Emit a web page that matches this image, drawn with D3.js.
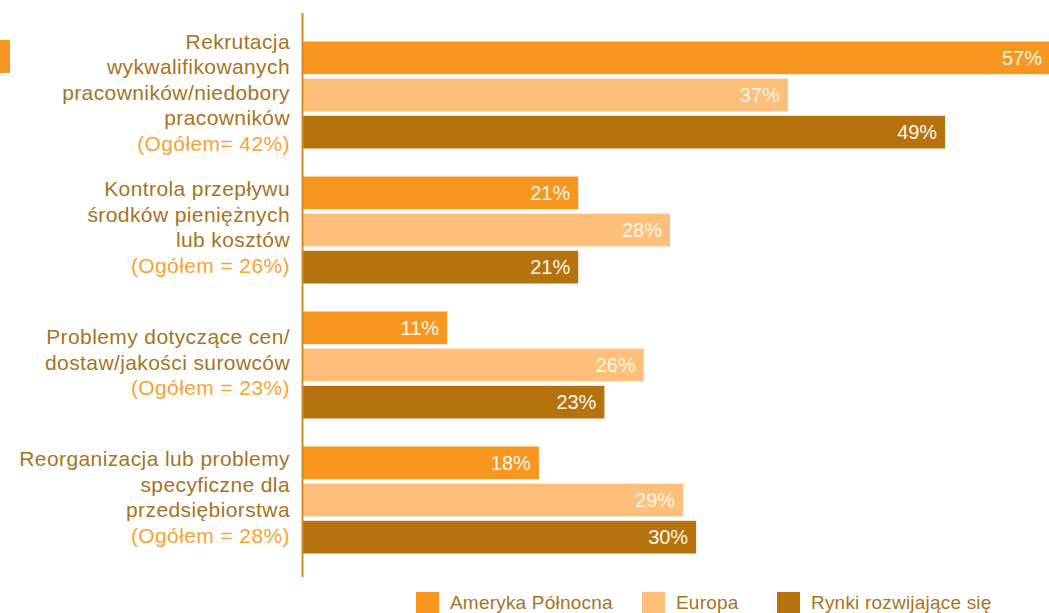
<!DOCTYPE html>
<html lang="pl">
<head>
<meta charset="utf-8">
<script src="https://cdn.jsdelivr.net/npm/d3@7/dist/d3.min.js"></script>
<style>
  html, body { margin: 0; padding: 0; background: #ffffff; }
  svg { display: block; font-family: "Liberation Sans", Arial, Helvetica, sans-serif; }
</style>
</head>
<body>
<svg id="chart" width="1049" height="613"></svg>
<script>
// Category labels (main lines) and their overall share line
const categories = [
  ["Rekrutacja", "wykwalifikowanych", "pracowników/niedobory", "pracowników"],
  ["Kontrola przepływu", "środków pieniężnych", "lub kosztów"],
  ["Problemy dotyczące cen/", "dostaw/jakości surowców"],
  ["Reorganizacja lub problemy", "specyficzne dla", "przedsiębiorstwa"]
];
const totals = ["(Ogółem= 42%)", "(Ogółem = 26%)", "(Ogółem = 23%)", "(Ogółem = 28%)"];

const seriesNames = ["Ameryka Północna", "Europa", "Rynki rozwijające się"];
const northAmerica = [57, 21, 11, 18];
const europe = [37, 28, 26, 29];
const emerging = [49, 21, 23, 30];
const seriesValues = [northAmerica, europe, emerging];
const seriesColors = ["#F7971F", "#FDBF79", "#B5720D"];

const svg = d3.select("#chart");

const x = d3.scaleLinear().domain([0, 57]).range([303, 1050]);
const yGroup = d3.scaleBand().domain(d3.range(categories.length)).range([27.5, 567.5]);
const ySeries = d3.scaleBand().domain(d3.range(seriesNames.length)).range([-53.5, 53.5]).paddingInner(0.12);

const groupCenter = i => yGroup(i) + yGroup.bandwidth() / 2;

// small edge marker on the left
svg.append("rect")
  .attr("x", 0).attr("y", 40).attr("width", 10).attr("height", 33)
  .attr("fill", seriesColors[0]);

// bars and values
categories.forEach((cat, i) => {
  const g = svg.append("g").attr("transform", `translate(0,${groupCenter(i)})`);
  seriesValues.forEach((vals, s) => {
    const v = vals[i];
    g.append("rect")
      .attr("x", x(0))
      .attr("y", ySeries(s))
      .attr("width", x(v) - x(0))
      .attr("height", ySeries.bandwidth())
      .attr("fill", seriesColors[s]);
    g.append("text")
      .attr("x", x(v) - 8)
      .attr("y", ySeries(s) + ySeries.bandwidth() / 2 + 7)
      .attr("text-anchor", "end")
      .attr("font-size", 20)
      .attr("fill", "#FFF8EE")
      .text(v + "%");
  });
});

// vertical axis line
svg.append("line")
  .attr("x1", 302.5).attr("x2", 302.5)
  .attr("y1", 13).attr("y2", 577)
  .attr("stroke", "#D48A2A").attr("stroke-width", 2);

// category labels
const lineH = 25.5;
categories.forEach((cat, i) => {
  const lines = cat.map(t => ({ t, c: "#A8731C" })).concat([{ t: totals[i], c: "#F7A234" }]);
  const n = lines.length;
  const mid = groupCenter(i) - 3;
  const firstBaseline = mid - (n - 1) * lineH / 2 + 7.5;
  const txt = svg.append("text")
    .attr("text-anchor", "end")
    .attr("font-size", 21)
    .attr("letter-spacing", "0.4px");
  lines.forEach((ln, k) => {
    txt.append("tspan")
      .attr("x", 290)
      .attr("y", firstBaseline + k * lineH)
      .attr("fill", ln.c)
      .text(ln.t);
  });
});

// legend
const legendX = [416, 642, 777];
seriesNames.forEach((name, s) => {
  svg.append("rect")
    .attr("x", legendX[s]).attr("y", 592)
    .attr("width", 23).attr("height", 23)
    .attr("fill", seriesColors[s]);
  svg.append("text")
    .attr("x", legendX[s] + 34)
    .attr("y", 608.5)
    .attr("font-size", 19)
    .attr("letter-spacing", "0.2px")
    .attr("fill", "#A8731C")
    .text(name);
});
</script>
</body>
</html>
